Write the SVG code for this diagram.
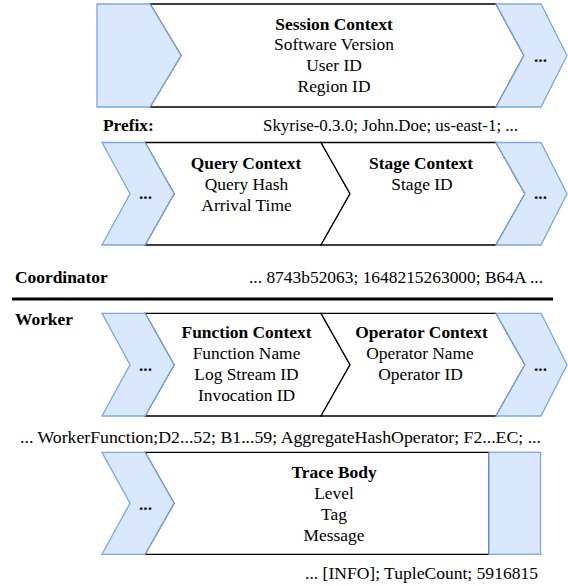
<svg xmlns="http://www.w3.org/2000/svg" width="568" height="586" viewBox="0 0 568 586" font-family="'Liberation Serif', serif" font-size="17.4">
<style>
.w{fill:#ffffff;stroke:#000000;stroke-width:1.3;stroke-linejoin:miter}
.b{fill:#dae8fc;stroke:#7ea6e0;stroke-width:1.3;stroke-linejoin:miter}
.c{text-anchor:middle}
.bd{font-weight:bold}
.r{text-anchor:end}
</style>
<rect width="568" height="586" fill="#ffffff"/>
<g id="row1">
<g id="session">
<polygon class="w" points="150,4 496,4 524,55.5 496,107 150,107 181,55.5"/>
<text class="c bd" x="334" y="30">Session Context</text>
<text class="c" x="334" y="50">Software Version</text>
<text class="c" x="334" y="71">User ID</text>
<text class="c" x="334" y="92">Region ID</text>
</g>
<g id="row1-left"><polygon class="b" points="97,4 150,4 181,55.5 150,107 97,107"/></g>
<g id="row1-right"><polygon class="b" points="496,4 541,4 567,55.5 541,107 496,107 524,55.5"/>
<text class="c bd" x="540.5" y="61.5">...</text></g>
</g>
<text class="bd" x="103" y="131">Prefix:</text>
<text class="r" x="518" y="131" textLength="255" lengthAdjust="spacingAndGlyphs">Skyrise-0.3.0; John.Doe; us-east-1; ...</text>
<g id="row2">
<g id="query">
<polygon class="w" points="145,142.5 321,142.5 350,193.7 321,245 145,245 174,193.7"/>
<text class="c bd" x="246" y="169">Query Context</text>
<text class="c" x="246.5" y="190">Query Hash</text>
<text class="c" x="246.5" y="211">Arrival Time</text>
</g>
<g id="stage">
<polygon class="w" points="321,142.5 496,142.5 525,193.7 496,245 321,245 350,193.7"/>
<text class="c bd" x="421" y="169">Stage Context</text>
<text class="c" x="422" y="190">Stage ID</text>
</g>
<g id="row2-left"><polygon class="b" points="102,142.5 145,142.5 174,193.7 145,245 102,245 130,193.7"/>
<text class="c bd" x="145.5" y="199">...</text></g>
<g id="row2-right"><polygon class="b" points="496,142.5 541,142.5 567,193.7 541,245 496,245 525,193.7"/>
<text class="c bd" x="540.5" y="199">...</text></g>
</g>
<text class="bd" x="15" y="283">Coordinator</text>
<text class="r" x="543" y="283" textLength="294" lengthAdjust="spacingAndGlyphs">... 8743b52063; 1648215263000; B64A ...</text>
<line x1="12" y1="299" x2="553" y2="299" stroke="#000000" stroke-width="3"/>
<text class="bd" x="15" y="325">Worker</text>
<g id="row3">
<g id="function">
<polygon class="w" points="145,313.3 321,313.3 350,364.7 321,416 145,416 174,364.7"/>
<text class="c bd" x="246.5" y="338">Function Context</text>
<text class="c" x="246.5" y="359">Function Name</text>
<text class="c" x="246.5" y="380">Log Stream ID</text>
<text class="c" x="246.5" y="401">Invocation ID</text>
</g>
<g id="operator">
<polygon class="w" points="321,313.3 496,313.3 525,364.7 496,416 321,416 350,364.7"/>
<text class="c bd" x="421.5" y="338">Operator Context</text>
<text class="c" x="420" y="359">Operator Name</text>
<text class="c" x="420.5" y="380">Operator ID</text>
</g>
<g id="row3-left"><polygon class="b" points="102,313.3 145,313.3 174,364.7 145,416 102,416 130,364.7"/>
<text class="c bd" x="145.5" y="371">...</text></g>
<g id="row3-right"><polygon class="b" points="496,313.3 541,313.3 567,364.7 541,416 496,416 525,364.7"/>
<text class="c bd" x="540.5" y="371">...</text></g>
</g>
<text class="r" x="541" y="443" textLength="521" lengthAdjust="spacingAndGlyphs">... WorkerFunction;D2...52; B1...59; AggregateHashOperator; F2...EC; ...</text>
<g id="row4">
<g id="trace">
<polygon class="w" points="145,452.3 489,452.3 489,554.3 145,554.3 174,503.3"/>
<text class="c bd" x="334" y="478">Trace Body</text>
<text class="c" x="334" y="499">Level</text>
<text class="c" x="334" y="520">Tag</text>
<text class="c" x="334" y="541">Message</text>
</g>
<g id="row4-left"><polygon class="b" points="102,452.3 145,452.3 174,503.3 145,554.3 102,554.3 130,503.3"/>
<text class="c bd" x="145.5" y="509.5">...</text></g>
<g id="row4-right"><rect class="b" x="489" y="452.3" width="51.5" height="102"/></g>
</g>
<text class="r" x="538" y="579" textLength="233" lengthAdjust="spacingAndGlyphs">... [INFO]; TupleCount; 5916815</text>
</svg>
